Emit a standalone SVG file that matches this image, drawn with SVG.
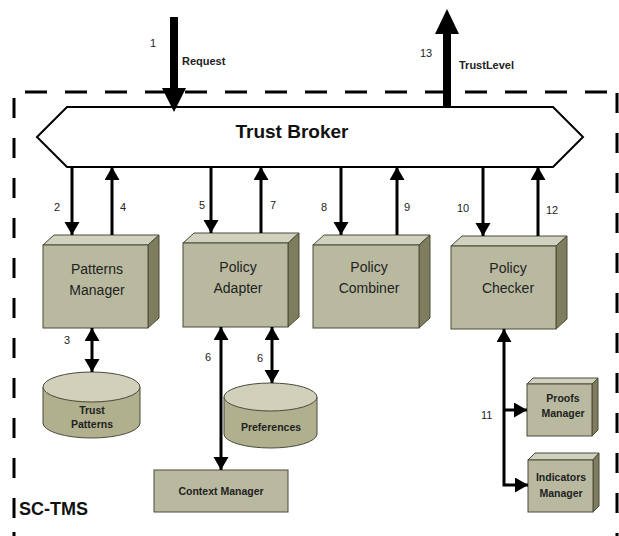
<svg xmlns="http://www.w3.org/2000/svg" width="619" height="536" viewBox="0 0 619 536">
  <style>
    .lbl { font-family: "Liberation Sans", Arial, sans-serif; font-size: 11px; fill: #222; }
    .name { font-family: "Liberation Sans", Arial, sans-serif; font-size: 14px; fill: #222; text-anchor: middle; }
    .small { font-family: "Liberation Sans", Arial, sans-serif; font-size: 10.5px; font-weight: bold; fill: #222; text-anchor: middle; }
    .front { fill: #b9b99f; stroke: #4a4a3a; stroke-width: 1; }
    .top { fill: #d1d1bf; stroke: #4a4a3a; stroke-width: 1; }
    .side { fill: #7e7e5f; stroke: #4a4a3a; stroke-width: 1; }
    .cyl { fill: #b0b08f; stroke: #4a4a3a; stroke-width: 1; }
    .cyltop { fill: #d0d0bb; stroke: #4a4a3a; stroke-width: 1; }
    .conn { stroke: #000; stroke-width: 3; fill: none; }
    .border { stroke: #000; stroke-width: 3; fill: none; }
  </style>
  <defs>
    <marker id="head" markerUnits="userSpaceOnUse" markerWidth="14" markerHeight="16" refX="13" refY="7.5" orient="auto-start-reverse">
      <path d="M0,0 L13,7.5 L0,15 Z" fill="#000"/>
    </marker>
  </defs>

  <rect width="619" height="536" fill="#fff"/>

  <!-- SC-TMS boundary -->
  <g id="boundary">
    <line class="border" x1="25" y1="92" x2="612" y2="92" stroke-dasharray="22 18"/>
    <line class="border" x1="14" y1="98" x2="14" y2="520" stroke-dasharray="20 20"/>
    <line class="border" x1="14" y1="532" x2="14" y2="536"/>
    <line class="border" x1="617" y1="93" x2="617" y2="536" stroke-dasharray="20 20"/>
    <text x="19" y="515" font-family="Liberation Sans, Arial, sans-serif" font-size="18" font-weight="bold" fill="#111">SC-TMS</text>
  </g>

  <!-- Trust Broker -->
  <g id="trust-broker">
    <path d="M37,137 L67,107 L553,107 L583,137 L553,167 L67,167 Z" fill="#fff" stroke="#000" stroke-width="2"/>
    <text x="292" y="138" font-family="Liberation Sans, Arial, sans-serif" font-size="19" font-weight="bold" fill="#111" text-anchor="middle">Trust Broker</text>
  </g>

  <!-- Patterns Manager -->
  <g id="patterns-manager">
    <path class="top" d="M43,245 L54,235 L159,235 L148,245 Z"/>
    <path class="side" d="M148,245 L159,235 L159,318 L148,328 Z"/>
    <rect class="front" x="43" y="245" width="105" height="83"/>
    <text class="name" x="97" y="274">Patterns</text>
    <text class="name" x="97" y="295">Manager</text>
  </g>

  <!-- Policy Adapter -->
  <g id="policy-adapter">
    <path class="top" d="M183,243 L194,233 L299,233 L288,243 Z"/>
    <path class="side" d="M288,243 L299,233 L299,317 L288,327 Z"/>
    <rect class="front" x="183" y="243" width="105" height="84"/>
    <text class="name" x="238" y="272">Policy</text>
    <text class="name" x="238" y="293">Adapter</text>
  </g>

  <!-- Policy Combiner -->
  <g id="policy-combiner">
    <path class="top" d="M313,245 L324,235 L430,235 L419,245 Z"/>
    <path class="side" d="M419,245 L430,235 L430,318 L419,328 Z"/>
    <rect class="front" x="313" y="245" width="106" height="83"/>
    <text class="name" x="369" y="272">Policy</text>
    <text class="name" x="369" y="293">Combiner</text>
  </g>

  <!-- Policy Checker -->
  <g id="policy-checker">
    <path class="top" d="M451,246 L462,236 L567,236 L556,246 Z"/>
    <path class="side" d="M556,246 L567,236 L567,319 L556,329 Z"/>
    <rect class="front" x="451" y="246" width="105" height="83"/>
    <text class="name" x="508" y="273">Policy</text>
    <text class="name" x="508" y="293">Checker</text>
  </g>

  <!-- Trust Patterns store -->
  <g id="trust-patterns">
    <path class="cyl" d="M43,387 L43,423 A48.5,15 0 0 0 140,423 L140,387 Z"/>
    <ellipse class="cyltop" cx="91.5" cy="387" rx="48.5" ry="15"/>
    <text class="small" x="92" y="414" font-size="11">Trust</text>
    <text class="small" x="92" y="428" font-size="11">Patterns</text>
  </g>

  <!-- Preferences store -->
  <g id="preferences">
    <path class="cyl" d="M224,397 L224,434 A46.5,14 0 0 0 317,434 L317,397 Z"/>
    <ellipse class="cyltop" cx="270.5" cy="397" rx="46.5" ry="14"/>
    <text class="small" x="271" y="431" font-size="11">Preferences</text>
  </g>

  <!-- Context Manager -->
  <g id="context-manager">
    <rect class="front" x="154" y="470" width="134" height="42"/>
    <text class="small" x="221" y="495" font-size="11">Context Manager</text>
  </g>

  <!-- Proofs Manager -->
  <g id="proofs-manager">
    <path class="top" d="M527,384 L533,378 L598,378 L592,384 Z"/>
    <path class="side" d="M592,384 L598,378 L598,430 L592,436 Z"/>
    <rect class="front" x="527" y="384" width="65" height="52"/>
    <text class="small" x="563" y="402">Proofs</text>
    <text class="small" x="563" y="417">Manager</text>
  </g>

  <!-- Indicators Manager -->
  <g id="indicators-manager">
    <path class="top" d="M528,460 L535,453 L599,453 L593,460 Z"/>
    <path class="side" d="M593,460 L599,453 L599,506 L593,512 Z"/>
    <rect class="front" x="528" y="460" width="65" height="52"/>
    <text class="small" x="561" y="481">Indicators</text>
    <text class="small" x="561" y="497">Manager</text>
  </g>

  <!-- Connectors -->
  <g id="connectors">
    <!-- external request / result -->
    <rect x="170" y="17" width="8" height="73" fill="#000"/>
    <polygon points="162,88 186,88 174,112" fill="#000"/>
    <rect x="443" y="32" width="8" height="75" fill="#000"/>
    <polygon points="435,34 459,34 447,9" fill="#000"/>

    <line class="conn" x1="72" y1="167" x2="72" y2="235" marker-end="url(#head)"/>
    <line class="conn" x1="112" y1="235" x2="112" y2="167" marker-end="url(#head)"/>
    <line class="conn" x1="211" y1="167" x2="211" y2="233" marker-end="url(#head)"/>
    <line class="conn" x1="261" y1="233" x2="261" y2="167" marker-end="url(#head)"/>
    <line class="conn" x1="341" y1="167" x2="341" y2="235" marker-end="url(#head)"/>
    <line class="conn" x1="397" y1="235" x2="397" y2="167" marker-end="url(#head)"/>
    <line class="conn" x1="483" y1="167" x2="483" y2="236" marker-end="url(#head)"/>
    <line class="conn" x1="538" y1="236" x2="538" y2="167" marker-end="url(#head)"/>

    <line class="conn" x1="92" y1="328" x2="92" y2="372" marker-start="url(#head)" marker-end="url(#head)"/>
    <line class="conn" x1="221" y1="327" x2="221" y2="470" marker-start="url(#head)" marker-end="url(#head)"/>
    <line class="conn" x1="272" y1="327" x2="272" y2="383" marker-start="url(#head)" marker-end="url(#head)"/>

    <path class="conn" d="M528,485 H504 V329" marker-start="url(#head)" marker-end="url(#head)"/>
    <line class="conn" x1="504" y1="410" x2="527" y2="410" marker-end="url(#head)"/>

    <!-- step labels -->
    <text class="lbl" x="150" y="47">1</text>
    <text class="lbl" x="182" y="65" font-weight="bold" font-size="10.5">Request</text>
    <text class="lbl" x="420" y="57">13</text>
    <text class="lbl" x="459" y="69" font-weight="bold" font-size="10.5">TrustLevel</text>
    <text class="lbl" x="54" y="211">2</text>
    <text class="lbl" x="120" y="211">4</text>
    <text class="lbl" x="199" y="209">5</text>
    <text class="lbl" x="270" y="209">7</text>
    <text class="lbl" x="321" y="211">8</text>
    <text class="lbl" x="404" y="211">9</text>
    <text class="lbl" x="457" y="212">10</text>
    <text class="lbl" x="546" y="214">12</text>
    <text class="lbl" x="64" y="344">3</text>
    <text class="lbl" x="205" y="361">6</text>
    <text class="lbl" x="257" y="362">6</text>
    <text class="lbl" x="481" y="419">11</text>
  </g>
</svg>
